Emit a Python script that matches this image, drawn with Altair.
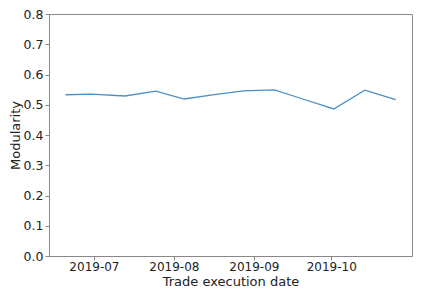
import altair as alt
import pandas as pd

dates = ["2019-06-20", "2019-06-30", "2019-07-13", "2019-07-25", "2019-08-05",
         "2019-08-16", "2019-08-28", "2019-09-09", "2019-09-20", "2019-10-02",
         "2019-10-14", "2019-10-26"]
modularity = [0.533, 0.535, 0.529, 0.545, 0.519, 0.533, 0.546, 0.549,
              0.519, 0.486, 0.548, 0.517]
tick_dates = ["2019-07-01", "2019-08-01", "2019-09-01", "2019-10-01"]
y_ticks = [0.0, 0.1, 0.2, 0.3, 0.4, 0.5, 0.6, 0.7, 0.8]

df = pd.DataFrame({"date": dates, "modularity": modularity})

tick_vals = [alt.DateTime(year=int(d[:4]), month=int(d[5:7]), date=int(d[8:]), utc=True)
             for d in tick_dates]

font = "DejaVu Sans"
chart = alt.Chart(df).mark_line(color="#4a90c8", strokeWidth=1.3).encode(
    x=alt.X("date:T",
            scale=alt.Scale(type="utc",
                            domain=[alt.DateTime(year=2019, month=6, date=13, hours=14, utc=True),
                                    alt.DateTime(year=2019, month=11, date=1, hours=8, utc=True)]),
            axis=alt.Axis(title="Trade execution date", values=tick_vals,
                          labelExpr="utcFormat(datum.value, '%Y-%m')",
                          grid=False, tickSize=4, labelPadding=1, labelFontSize=12,
                          titleBaseline="alphabetic", titleY=29,
                          labelFlush=False, labelOverlap=False)),
    y=alt.Y("modularity:Q",
            scale=alt.Scale(domain=[0, 0.8], nice=False, zero=False),
            axis=alt.Axis(title="Modularity", values=y_ticks, format=".1f", grid=False,
                          tickSize=4, labelPadding=2, titlePadding=1)),
).properties(
    width=363,
    height=242,
    autosize=alt.AutoSizeParams(type="none"),
    padding={"left": 41, "top": 6, "right": 4, "bottom": 34},
).configure_view(
    stroke="#888888", strokeWidth=1
).configure_axis(
    domainColor="#888888", tickColor="#888888",
    labelFont=font, labelFontSize=12.5, labelColor="#222222",
    titleFont=font, titleFontSize=13, titleColor="#222222", titleFontWeight="normal",
)

chart.save("out.html", embed_options={"renderer": "svg", "actions": False})
